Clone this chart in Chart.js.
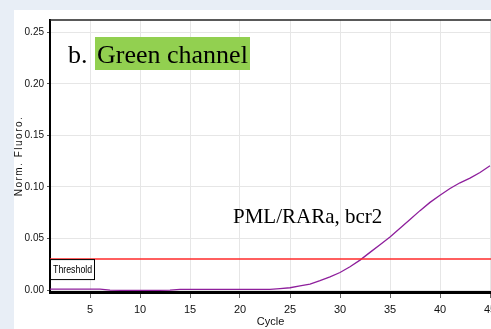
<!DOCTYPE html>
<html>
<head>
<meta charset="utf-8">
<script src="https://cdn.jsdelivr.net/npm/chart.js@4.4.1/dist/chart.umd.min.js"></script>
<style>
  html, body { margin: 0; padding: 0; background: #e8eef6; }
  #wrap { width: 491px; height: 329px; position: relative; }
</style>
</head>
<body>
<div id="wrap"><canvas id="pcrChart"></canvas></div>
<script>
const cycles = [
  1, 2, 3, 4, 5, 6, 7, 8, 9, 10, 11, 12, 13, 14, 15, 16, 17, 18, 19, 20, 21,
  22, 23, 24, 25, 26, 27, 28, 29, 30, 31, 32, 33, 34, 35, 36, 37, 38, 39, 40,
  41, 42, 43, 44, 45,
];
const normFluoro = [
  0.0009, 0.0009, 0.0009, 0.0009, 0.0009, 0.0008, -0.0002, -0.0003, -0.0003,
  -0.0003, -0.0003, -0.0003, -0.0002, 0.0006, 0.0006, 0.0006, 0.0006, 0.0006,
  0.0006, 0.0006, 0.0006, 0.0006, 0.0006, 0.0013, 0.0022, 0.004, 0.0058,
  0.009, 0.0128, 0.017, 0.0225, 0.029, 0.0365, 0.044, 0.0515, 0.06, 0.0685,
  0.077, 0.085, 0.092, 0.0985, 0.104, 0.1085, 0.114, 0.1205,
];
const threshold = 0.03;
const xTicks = [5, 10, 15, 20, 25, 30, 35, 40, 45];
const yTicks = [0, 0.05, 0.1, 0.15, 0.2, 0.25];

const narrow = "'Liberation Sans Narrow', 'Arial Narrow', 'Liberation Sans', Arial, sans-serif";
const serif = "'Liberation Serif', 'Times New Roman', serif";

// page frame, top border line, labels and threshold tag
const decorPlugin = {
  id: "decor",
  beforeDraw(chart) {
    const ctx = chart.ctx;
    ctx.save();
    ctx.fillStyle = "#e8eef6";
    ctx.fillRect(0, 0, chart.width, chart.height);
    ctx.fillStyle = "#ffffff";
    ctx.fillRect(14, 10, chart.width - 14, chart.height - 10);
    ctx.restore();
  },
  afterDraw(chart) {
    const ctx = chart.ctx;
    const area = chart.chartArea;
    const y = chart.scales.y;
    ctx.save();

    // top frame line
    ctx.strokeStyle = "#222";
    ctx.lineWidth = 1.5;
    ctx.beginPath();
    ctx.moveTo(area.left, area.top);
    ctx.lineTo(area.right, area.top);
    ctx.stroke();

    // threshold tag
    const ty = y.getPixelForValue(threshold);
    ctx.fillStyle = "#fff";
    ctx.fillRect(area.left, ty + 0.5, 44, 20);
    ctx.strokeStyle = "#000";
    ctx.lineWidth = 1;
    ctx.strokeRect(area.left + 0.5, ty + 0.5, 44, 20);
    ctx.save();
    ctx.translate(area.left + 3, ty + 11);
    ctx.scale(0.8, 1);
    ctx.fillStyle = "#000";
    ctx.font = "11px 'Liberation Sans', Arial, sans-serif";
    ctx.textBaseline = "middle";
    ctx.textAlign = "left";
    ctx.fillText("Threshold", 0, 0);
    ctx.restore();

    // y axis title
    ctx.save();
    ctx.translate(19, 156);
    ctx.rotate(-Math.PI / 2);
    ctx.fillStyle = "#111";
    ctx.font = "10px 'Liberation Sans', Arial, sans-serif";
    ctx.letterSpacing = "1.5px";
    ctx.textAlign = "center";
    ctx.textBaseline = "middle";
    ctx.fillText("Norm. Fluoro.", 0, 0);
    ctx.restore();

    // panel label
    ctx.font = "26px " + serif;
    ctx.textBaseline = "alphabetic";
    ctx.fillStyle = "#92d050";
    ctx.fillRect(95, 37, 155, 33);
    ctx.fillStyle = "#000";
    ctx.fillText("b.", 68, 63);
    ctx.fillText("Green channel", 97, 63);

    // curve label
    ctx.font = "21px " + serif;
    ctx.fillText("PML/RARa, bcr2", 233, 223);

    ctx.restore();
  },
};

const ctx = document.getElementById("pcrChart").getContext("2d");
new Chart(ctx, {
  type: "line",
  data: {
    datasets: [
      {
        label: "Threshold",
        data: [
          { x: 1, y: threshold },
          { x: 45.1, y: threshold },
        ],
        borderColor: "#ff2a2a",
        borderWidth: 1.5,
        pointRadius: 0,
      },
      {
        label: "PML/RARa, bcr2",
        data: cycles.map((c, i) => ({ x: c, y: normFluoro[i] })),
        borderColor: "#8e1f9c",
        borderWidth: 1.3,
        pointRadius: 0,
        tension: 0,
      },
    ],
  },
  options: {
    responsive: true,
    maintainAspectRatio: false,
    animation: false,
    clip: false,
    layout: { padding: { top: 20, right: 0, left: 0, bottom: 0 } },
    plugins: {
      legend: { display: false },
      tooltip: { enabled: false },
    },
    scales: {
      x: {
        type: "linear",
        min: 1,
        max: 45.1,
        afterBuildTicks: (scale) => {
          scale.ticks = xTicks.map((v) => ({ value: v }));
        },
        afterFit: (scale) => {
          scale.height = 37;
          scale.paddingLeft = 0;
          scale.paddingRight = 0;
        },
        grid: {
          color: "#e6e6e6",
          tickColor: "#666",
          tickLength: 6,
        },
        border: { color: "#000", width: 3 },
        ticks: {
          color: "#111",
          padding: 5,
          maxRotation: 0,
          font: { family: narrow, size: 11 },
        },
        title: {
          display: true,
          text: "Cycle",
          color: "#111",
          padding: { top: -2, bottom: 0 },
          font: { family: narrow, size: 11 },
        },
      },
      y: {
        min: -0.00194,
        max: 0.26194,
        afterBuildTicks: (scale) => {
          scale.ticks = yTicks.map((v) => ({ value: v }));
        },
        afterFit: (scale) => {
          scale.width = 50;
        },
        grid: {
          color: "#e6e6e6",
          tickColor: "#555",
          tickLength: 3,
        },
        border: { color: "#000", width: 2 },
        ticks: {
          color: "#111",
          padding: 3,
          font: { family: narrow, size: 10 },
          callback: (v) => v.toFixed(2),
        },
      },
    },
  },
  plugins: [decorPlugin],
});
</script>
</body>
</html>
